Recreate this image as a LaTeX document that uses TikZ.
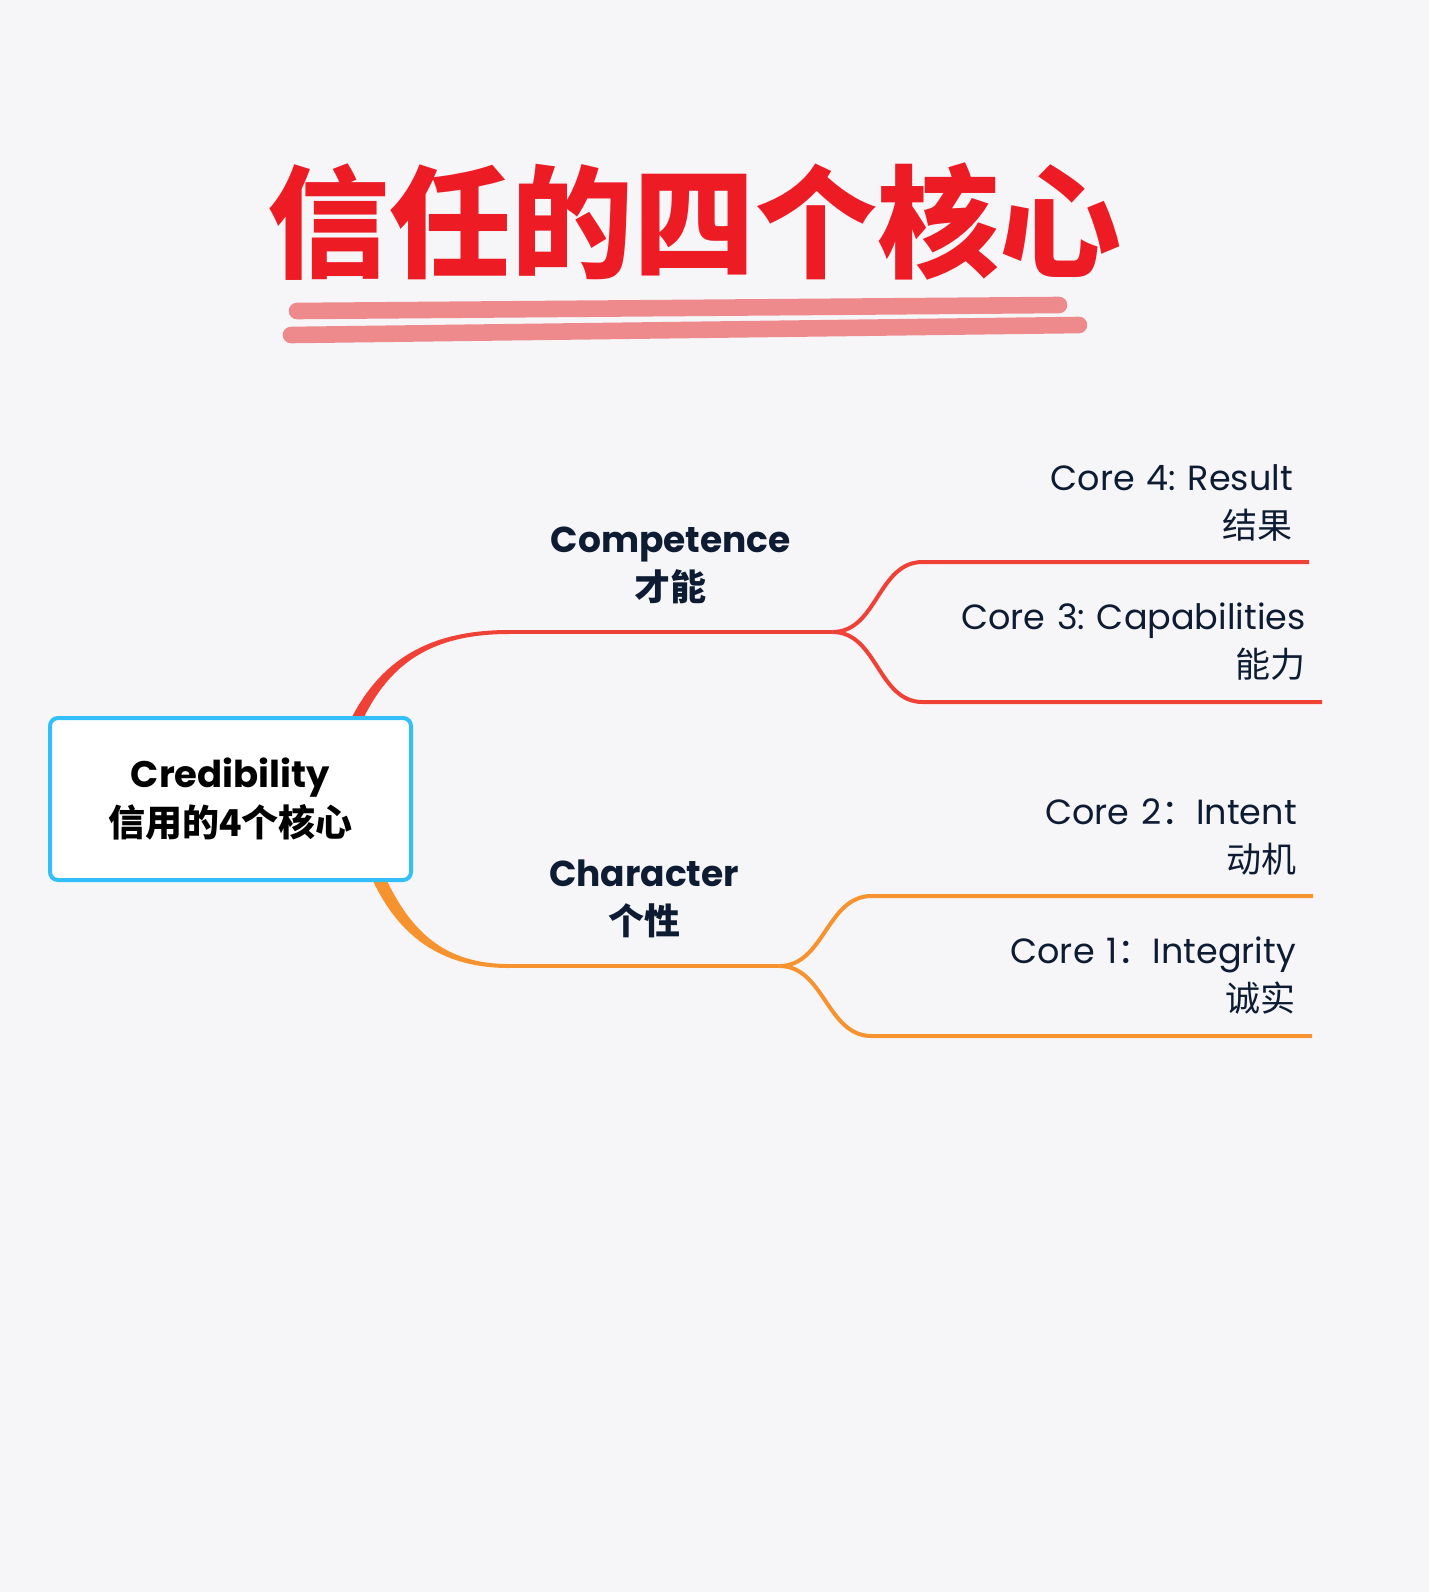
\documentclass[tikz,border=0pt]{standalone}
\usepackage{fontspec}
\setmainfont{Poppins}
\newfontfamily\cjk{Noto Sans CJK SC}
\usetikzlibrary{positioning}
\usetikzlibrary{backgrounds}
\definecolor{bgcolor}{HTML}{F6F6F9}
\definecolor{titlered}{HTML}{ED1C24}
\definecolor{barpink}{HTML}{EE898C}
\definecolor{rootblue}{HTML}{33BFFA}
\definecolor{compred}{HTML}{EF4136}
\definecolor{charorange}{HTML}{F7932F}
\definecolor{inkblue}{HTML}{0E1C33}
\newcommand{\branchwidth}{4pt}
\tikzstyle{root}=[draw=rootblue, fill=white, line width=4pt, rounded corners=8pt,
                  minimum width=361pt, minimum height=162pt, align=center,
                  font=\fontsize{37}{49}\selectfont\bfseries]
\tikzstyle{branch}=[anchor=south west, inner xsep=40pt, inner ysep=28pt, align=center,
                    text=inkblue, font=\fontsize{36}{48}\selectfont\bfseries]
\tikzstyle{core}=[anchor=south east, inner xsep=16pt, inner ysep=21pt, align=right,
                  text=inkblue, font=\fontsize{35}{48}\selectfont]
\tikzstyle{underbar}=[barpink, line width=16.6pt, line cap=round]
\tikzstyle{compline}=[compred, line width=\branchwidth]
\tikzstyle{charline}=[charorange, line width=\branchwidth]
\frenchspacing

\begin{document}
\begin{tikzpicture}[x=1pt, y=-1pt]
    % title
    \node[font=\cjk\fontsize{122}{122}\selectfont\bfseries, text=titlered, anchor=base] (title) at (694.5, 268) {信任的四个核心};
    \draw[underbar] (297, 311) -- (1059, 305);
    \draw[underbar] (291, 335) -- (1079, 325);

    \node[root] (cred) at (230.5, 799) {Credibility\\{\cjk 信用的4个核心}};
    \node[branch, minimum width=323pt] (comp) at (509, 632) {Competence\\{\cjk 才能}};
    \node[branch, minimum width=269pt] (char) at (509, 966) {Character\\{\cjk 个性}};

    \node[core, text width=354pt] (c4) at (1309, 562) {Core 4: Result\\{\cjk 结果}};
    \node[core, text width=367pt] (c3) at (1322, 702) {Core 3: Capabilities\\{\cjk 能力}};
    \node[core, text width=409pt] (c2) at (1313, 896) {Core 2{\cjk ：}Intent\\{\cjk 动机}};
    \node[core, text width=408pt] (c1) at (1312, 1036) {Core 1{\cjk ：}Integrity\\{\cjk 诚实}};

    \begin{scope}[on background layer]
        \fill[bgcolor] (0, 0) rectangle (1429, 1592);
        \fill[compred] ([xshift=122pt]cred.north) .. controls +(29, -55) and +(-81, 0) .. ([yshift=2pt]comp.south west)
            -- ([yshift=-2pt]comp.south west) .. controls +(-77, 0) and +(27, -53) .. ([xshift=134pt]cred.north) -- cycle;
        \fill[charorange] ([xshift=143pt]cred.south) .. controls +(25, 52) and +(-70, 0) .. ([yshift=-2pt]char.south west)
            -- ([yshift=2pt]char.south west) .. controls +(-66, 0) and +(24, 48) .. ([xshift=157pt]cred.south) -- cycle;
    \end{scope}

    \draw[compline] (comp.south west) -- (comp.south east);
    \draw[compline] (comp.south east) .. controls +(45, 0) and +(-45, 0) .. (c4.south west) -- (c4.south east);
    \draw[compline] (comp.south east) .. controls +(45, 0) and +(-45, 0) .. (c3.south west) -- (c3.south east);

    \draw[charline] (char.south west) -- (char.south east);
    \draw[charline] (char.south east) .. controls +(45, 0) and +(-45, 0) .. (c2.south west) -- (c2.south east);
    \draw[charline] (char.south east) .. controls +(45, 0) and +(-45, 0) .. (c1.south west) -- (c1.south east);
\end{tikzpicture}
\end{document}
